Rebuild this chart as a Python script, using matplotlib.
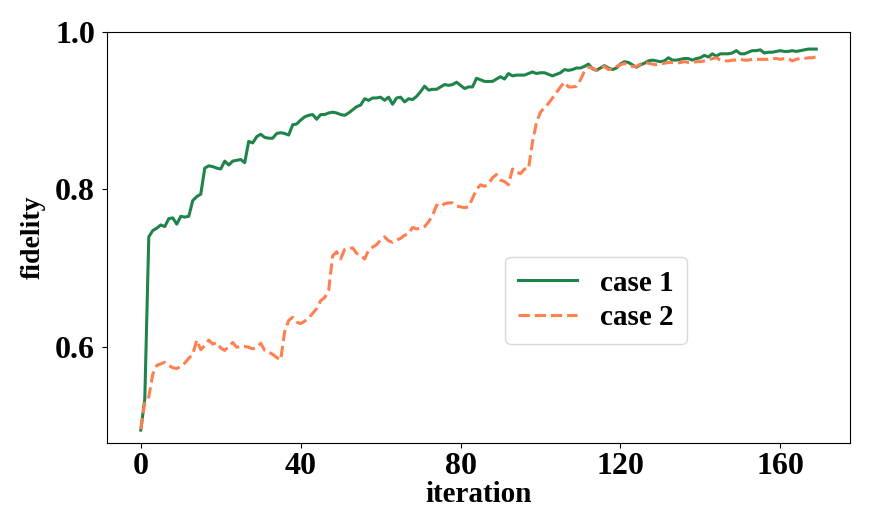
import matplotlib
matplotlib.use('Agg')
import matplotlib.pyplot as plt
import numpy as np

# fidelity per iteration
case1 = [
    0.495, 0.535, 0.740, 0.748, 0.751, 0.755, 0.753, 0.763, 0.764, 0.756,
    0.766, 0.765, 0.766, 0.786, 0.791, 0.794, 0.827, 0.830, 0.829, 0.827,
    0.826, 0.836, 0.831, 0.836, 0.837, 0.838, 0.834, 0.861, 0.859, 0.867,
    0.870, 0.866, 0.865, 0.865, 0.871, 0.872, 0.871, 0.869, 0.882, 0.883,
    0.888, 0.892, 0.894, 0.895, 0.889, 0.895, 0.895, 0.897, 0.898, 0.897,
    0.895, 0.894, 0.897, 0.901, 0.905, 0.907, 0.915, 0.913, 0.916, 0.916,
    0.917, 0.913, 0.917, 0.908, 0.916, 0.917, 0.911, 0.915, 0.914, 0.918,
    0.924, 0.931, 0.926, 0.927, 0.927, 0.930, 0.933, 0.932, 0.933, 0.936,
    0.932, 0.928, 0.930, 0.930, 0.941, 0.939, 0.937, 0.937, 0.937, 0.940,
    0.943, 0.940, 0.947, 0.944, 0.945, 0.945, 0.945, 0.947, 0.949, 0.947,
    0.948, 0.948, 0.946, 0.944, 0.946, 0.948, 0.952, 0.951, 0.952, 0.954,
    0.954, 0.956, 0.959, 0.953, 0.951, 0.954, 0.957, 0.954, 0.952, 0.954,
    0.959, 0.962, 0.961, 0.958, 0.955, 0.958, 0.960, 0.963, 0.964, 0.963,
    0.962, 0.963, 0.967, 0.964, 0.964, 0.965, 0.966, 0.966, 0.964, 0.966,
    0.967, 0.970, 0.968, 0.972, 0.969, 0.972, 0.972, 0.972, 0.973, 0.976,
    0.972, 0.972, 0.974, 0.976, 0.976, 0.977, 0.973, 0.974, 0.974, 0.975,
    0.976, 0.975, 0.975, 0.976, 0.975, 0.976, 0.977, 0.978, 0.978, 0.978,
]
case2 = [
    0.496, 0.530, 0.537, 0.566, 0.577, 0.579, 0.581, 0.577, 0.574, 0.573,
    0.576, 0.580, 0.586, 0.591, 0.609, 0.597, 0.602, 0.609, 0.604, 0.606,
    0.599, 0.596, 0.601, 0.606, 0.600, 0.601, 0.601, 0.600, 0.598, 0.600,
    0.605, 0.596, 0.594, 0.591, 0.587, 0.584, 0.620, 0.634, 0.638, 0.632,
    0.630, 0.633, 0.637, 0.643, 0.649, 0.659, 0.663, 0.672, 0.716, 0.721,
    0.712, 0.724, 0.725, 0.726, 0.719, 0.716, 0.712, 0.723, 0.727, 0.730,
    0.736, 0.740, 0.735, 0.733, 0.736, 0.738, 0.742, 0.744, 0.752, 0.750,
    0.751, 0.753, 0.759, 0.767, 0.780, 0.778, 0.782, 0.783, 0.783, 0.779,
    0.778, 0.777, 0.778, 0.789, 0.800, 0.806, 0.804, 0.807, 0.815, 0.819,
    0.812, 0.810, 0.806, 0.826, 0.822, 0.820, 0.826, 0.826, 0.860, 0.885,
    0.898, 0.904, 0.909, 0.916, 0.923, 0.930, 0.936, 0.930, 0.930, 0.931,
    0.939, 0.950, 0.955, 0.954, 0.951, 0.954, 0.956, 0.952, 0.953, 0.956,
    0.958, 0.960, 0.957, 0.956, 0.956, 0.959, 0.961, 0.960, 0.959, 0.958,
    0.959, 0.960, 0.961, 0.961, 0.960, 0.961, 0.962, 0.961, 0.961, 0.962,
    0.962, 0.963, 0.964, 0.966, 0.967, 0.964, 0.963, 0.963, 0.964, 0.964,
    0.965, 0.964, 0.964, 0.965, 0.965, 0.965, 0.965, 0.965, 0.966, 0.966,
    0.965, 0.966, 0.966, 0.963, 0.965, 0.966, 0.966, 0.967, 0.967, 0.968,
]
labels = ['case 1', 'case 2']
xticks = [0, 40, 80, 120, 160]
yticks = [0.6, 0.8, 1.0]

iterations = np.arange(len(case1))

plt.rcParams['font.family'] = ['Liberation Serif', 'DejaVu Serif']
plt.rcParams['font.weight'] = 'bold'

fig = plt.figure(figsize=(8.86, 5.14), dpi=100)
ax = fig.add_axes([0.1208, 0.1387, 0.8386, 0.7996])

ax.plot(iterations, case1, color='#1e8449', linewidth=2.2, label=labels[0])
ax.plot(iterations, case2, color='#ff7f50', linewidth=2.2, linestyle='--', label=labels[1])

ax.set_xlim(-8.45, 177.45)
ax.set_ylim(0.479, 1.0)
ax.set_xticks(xticks)
ax.set_yticks(yticks)
ax.set_xticklabels([str(t) for t in xticks], fontsize=23, fontweight='bold')
ax.set_yticklabels([f'{t:.1f}' for t in yticks], fontsize=23, fontweight='bold')
ax.tick_params(axis='y', pad=5)
ax.set_xlabel('iteration', fontsize=21, fontweight='bold', labelpad=0)
ax.set_ylabel('fidelity', fontsize=20, fontweight='bold', labelpad=7)

leg = ax.legend(loc='center', bbox_to_anchor=(0.658, 0.3465), fontsize=21,
                frameon=True, handlelength=2.0, handletextpad=0.8,
                borderpad=0.45, labelspacing=0.25)
leg.get_frame().set_edgecolor('#d0d0d0')

fig.savefig('out.png', dpi=100)
